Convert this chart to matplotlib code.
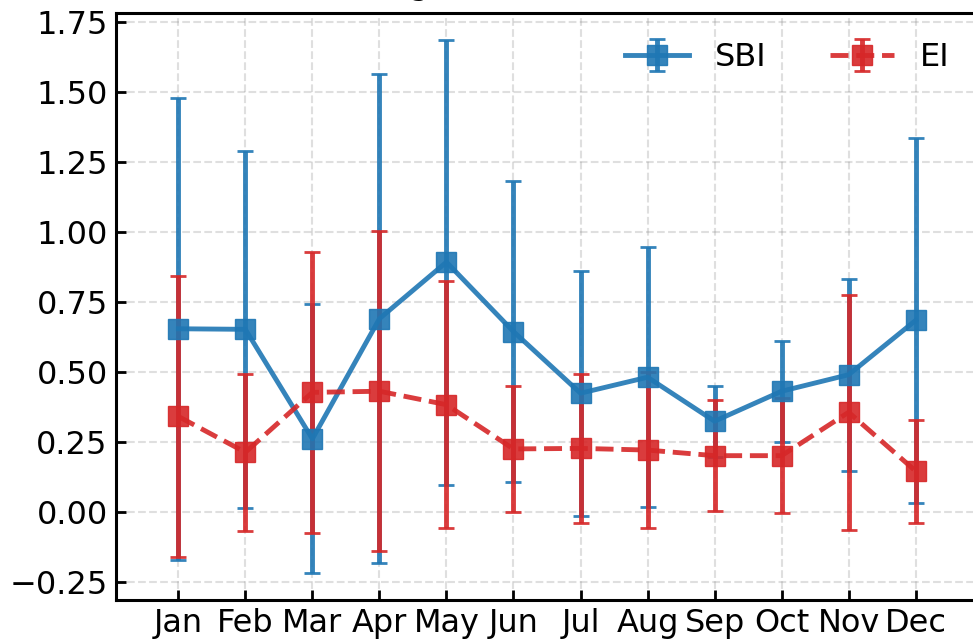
import matplotlib
matplotlib.use("Agg")
import matplotlib.pyplot as plt

months = ['Jan', 'Feb', 'Mar', 'Apr', 'May', 'Jun',
          'Jul', 'Aug', 'Sep', 'Oct', 'Nov', 'Dec']
sbi_mean = [0.654, 0.652, 0.261, 0.690, 0.892, 0.644,
            0.424, 0.481, 0.324, 0.431, 0.490, 0.684]
sbi_err = [0.824, 0.638, 0.480, 0.872, 0.794, 0.538,
           0.437, 0.464, 0.126, 0.180, 0.343, 0.652]
ei_mean = [0.341, 0.213, 0.427, 0.431, 0.383, 0.225,
           0.227, 0.221, 0.201, 0.201, 0.356, 0.146]
ei_err = [0.500, 0.280, 0.502, 0.572, 0.441, 0.226,
          0.265, 0.280, 0.199, 0.206, 0.420, 0.184]

x = list(range(len(months)))

fig = plt.figure(figsize=(9.73, 6.42), dpi=100)
# axes runs a little past the right edge, like the cropped original
ax = fig.add_axes([116 / 973, 42 / 642, 862 / 973, 587 / 642])

ax.errorbar(x, sbi_mean, yerr=sbi_err, color='tab:blue', marker='s',
            markersize=14, linewidth=3.5, elinewidth=3.5, capsize=6,
            capthick=2, alpha=0.9, label='SBI')
ax.errorbar(x, ei_mean, yerr=ei_err, color='tab:red', marker='s',
            markersize=14, linewidth=3.5, elinewidth=3.5, capsize=6,
            capthick=2, alpha=0.9, linestyle='--', label='EI')

ax.set_xlim(-0.93, 11.93)
ax.set_xticks(x)
ax.set_xticklabels(months)
ax.set_yticks([-0.25, 0.0, 0.25, 0.5, 0.75, 1.0, 1.25, 1.5, 1.75])

# title sits mostly above the top edge, as in the cropped reference
ax.set_title('(a) SBI vs EI Average', loc='left', fontsize=23, pad=14)
ax.grid(True, linestyle='--', color='gray', alpha=0.25, linewidth=1.5)

ax.tick_params(axis='both', direction='in', labelsize=23, width=2,
               length=7, pad=6)
for s in ax.spines.values():
    s.set_linewidth(2.2)

ax.legend(loc='upper right', ncol=2, frameon=False, fontsize=23)

plt.savefig('out.png', dpi=100)
